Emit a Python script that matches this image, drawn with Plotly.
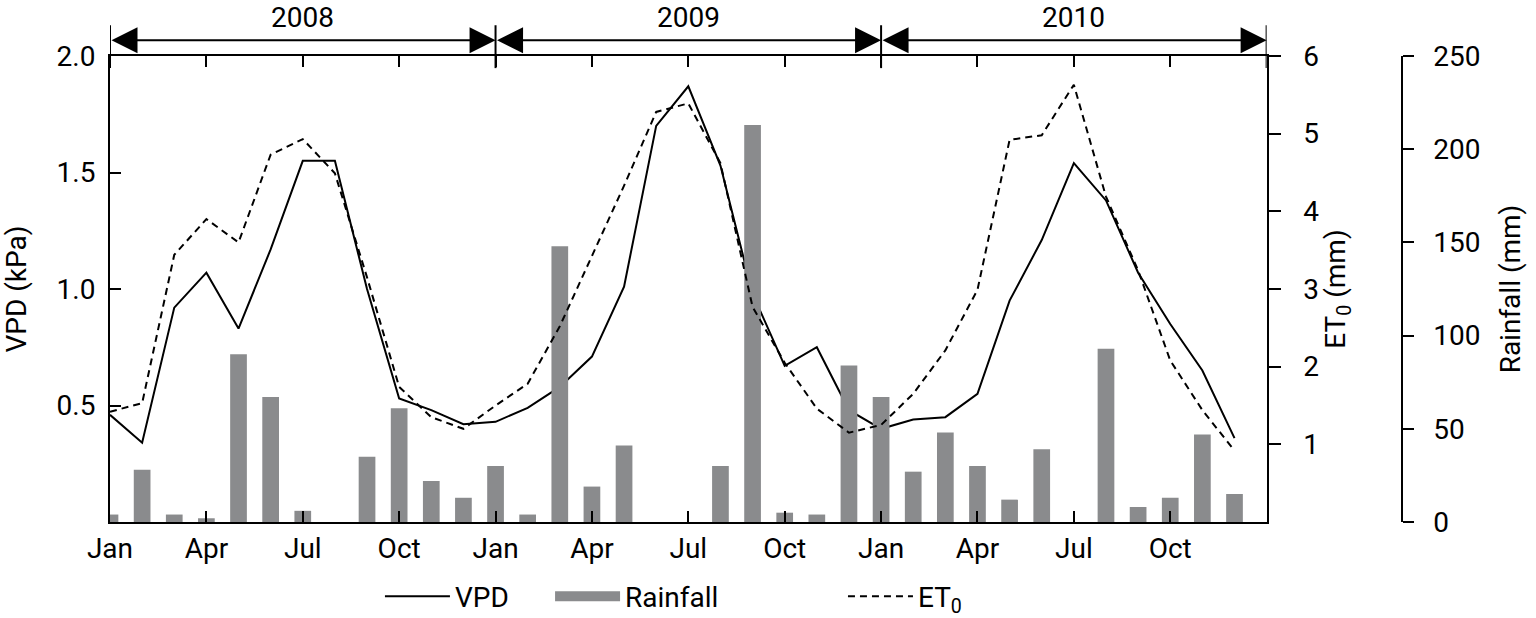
import plotly.graph_objects as go

# month index 0 = Jan 2008 ... 35 = Dec 2010
months = list(range(36))
tick_pos = list(range(0, 36, 3))
tick_text = ["Jan", "Apr", "Jul", "Oct"] * 3
years = ["2008", "2009", "2010"]

vpd = [0.46, 0.34, 0.92, 1.07, 0.83, 1.17, 1.55, 1.55, 1.00, 0.53, 0.48, 0.42,
       0.43, 0.49, 0.58, 0.71, 1.01, 1.70, 1.87, 1.53, 0.98, 0.67, 0.75, 0.48,
       0.40, 0.44, 0.45, 0.55, 0.95, 1.21, 1.54, 1.38, 1.07, 0.85, 0.65, 0.36]

et0 = [1.42, 1.53, 3.44, 3.90, 3.60, 4.73, 4.93, 4.49, 3.15, 1.74, 1.35, 1.20,
       1.50, 1.78, 2.52, 3.43, 4.33, 5.28, 5.39, 4.62, 2.77, 2.05, 1.46, 1.15,
       1.25, 1.65, 2.21, 2.99, 4.92, 4.98, 5.63, 4.19, 3.24, 2.08, 1.44, 0.92]

rainfall = [4, 28, 4, 2, 90, 67, 6, 0, 35, 61, 22, 13,
            30, 4, 148, 19, 41, 0, 0, 30, 213, 5, 4, 84,
            67, 27, 48, 30, 12, 39, 0, 93, 8, 13, 47, 15]

FONT = "Roboto, Liberation Sans, sans-serif"
FS = 28
GREY = "#8a8b8d"

fig = go.Figure()
fig.add_trace(go.Scatter(x=months, y=vpd, name="VPD", mode="lines",
                         line=dict(color="black", width=2), yaxis="y", legend="legend"))
fig.add_trace(go.Bar(x=months, y=rainfall, name="Rainfall", width=0.52, showlegend=False,
                     marker=dict(color=GREY, line=dict(width=0)), yaxis="y2"))
# legend-only entry so the rainfall key is a wide grey block like the original
fig.add_trace(go.Scatter(x=[None], y=[None], name="Rainfall", mode="lines",
                         line=dict(color=GREY, width=15), yaxis="y2", legend="legend2",
                         hoverinfo="skip"))
fig.add_trace(go.Scatter(x=months, y=et0, name="ET<sub>0</sub>", mode="lines",
                         line=dict(color="black", width=2, dash="7px,5px"), yaxis="y3", legend="legend3"))

axis_common = dict(showgrid=False, zeroline=False, showline=True, linewidth=2,
                   linecolor="black", tickcolor="black", tickwidth=2,
                   tickfont=dict(size=FS, color="black"))

legend_common = dict(y=-0.160, xanchor="left", yanchor="middle", orientation="h",
                     itemwidth=65, font=dict(size=FS), bgcolor="rgba(0,0,0,0)")

fig.update_layout(
    width=1536, height=618,
    margin=dict(l=110, r=0, t=56, b=96, autoexpand=False),
    paper_bgcolor="white", plot_bgcolor="white",
    font=dict(family=FONT, size=FS, color="black"),
    showlegend=True,
    xaxis=dict(range=[0, 36], domain=[0, 0.8111], tickvals=tick_pos, ticktext=tick_text,
               ticks="inside", ticklen=11, mirror="ticks", ticklabelstandoff=0, **axis_common),
    yaxis=dict(range=[0, 2], tickvals=[0.5, 1.0, 1.5, 2.0], tickformat=".1f",
               ticks="inside", ticklen=11, ticklabelstandoff=7,
               title=dict(text="VPD (kPa)", font=dict(size=FS), standoff=27), **axis_common),
    yaxis2=dict(range=[0, 250], tickvals=[0, 50, 100, 150, 200, 250], overlaying="y",
                side="right", anchor="free", position=0.9058, ticks="outside", ticklen=11,
                ticklabelstandoff=14,
                title=dict(text="Rainfall (mm)", font=dict(size=FS), standoff=20), **axis_common),
    yaxis3=dict(range=[0, 6], tickvals=[1, 2, 3, 4, 5, 6], overlaying="y", side="right",
                anchor="x", ticks="outside", ticklen=12, ticklabelstandoff=17,
                title=dict(text="ET<sub>0</sub> (mm)", font=dict(size=FS), standoff=6), **axis_common),
    legend=dict(x=0.1893, **legend_common),
    legend2=dict(x=0.3086, **legend_common),
    legend3=dict(x=0.514, **legend_common),
)

# year bands above the plot: separators, double arrows and labels
for i in range(len(years) + 1):
    fig.add_shape(type="line", xref="x", yref="paper", x0=12 * i, x1=12 * i,
                  y0=0.974, y1=1.066, line=dict(color="black", width=2))

for i, yr in enumerate(years):
    fig.add_annotation(x=12 * i + 12, y=1.034, xref="x", yref="paper",
                       ax=12 * i, ay=0, axref="x", ayref="pixel", text="",
                       showarrow=True, arrowhead=2, startarrowhead=2, arrowside="end+start",
                       arrowsize=2.6, startarrowsize=2.6, arrowwidth=2, arrowcolor="black")
    fig.add_annotation(x=12 * i + 6, y=1.083, xref="x", yref="paper", text=yr,
                       showarrow=False, font=dict(size=FS), yanchor="middle")

fig.write_html("out.html", config={"displayModeBar": False},
               post_script="document.body.style.margin='0px';")
